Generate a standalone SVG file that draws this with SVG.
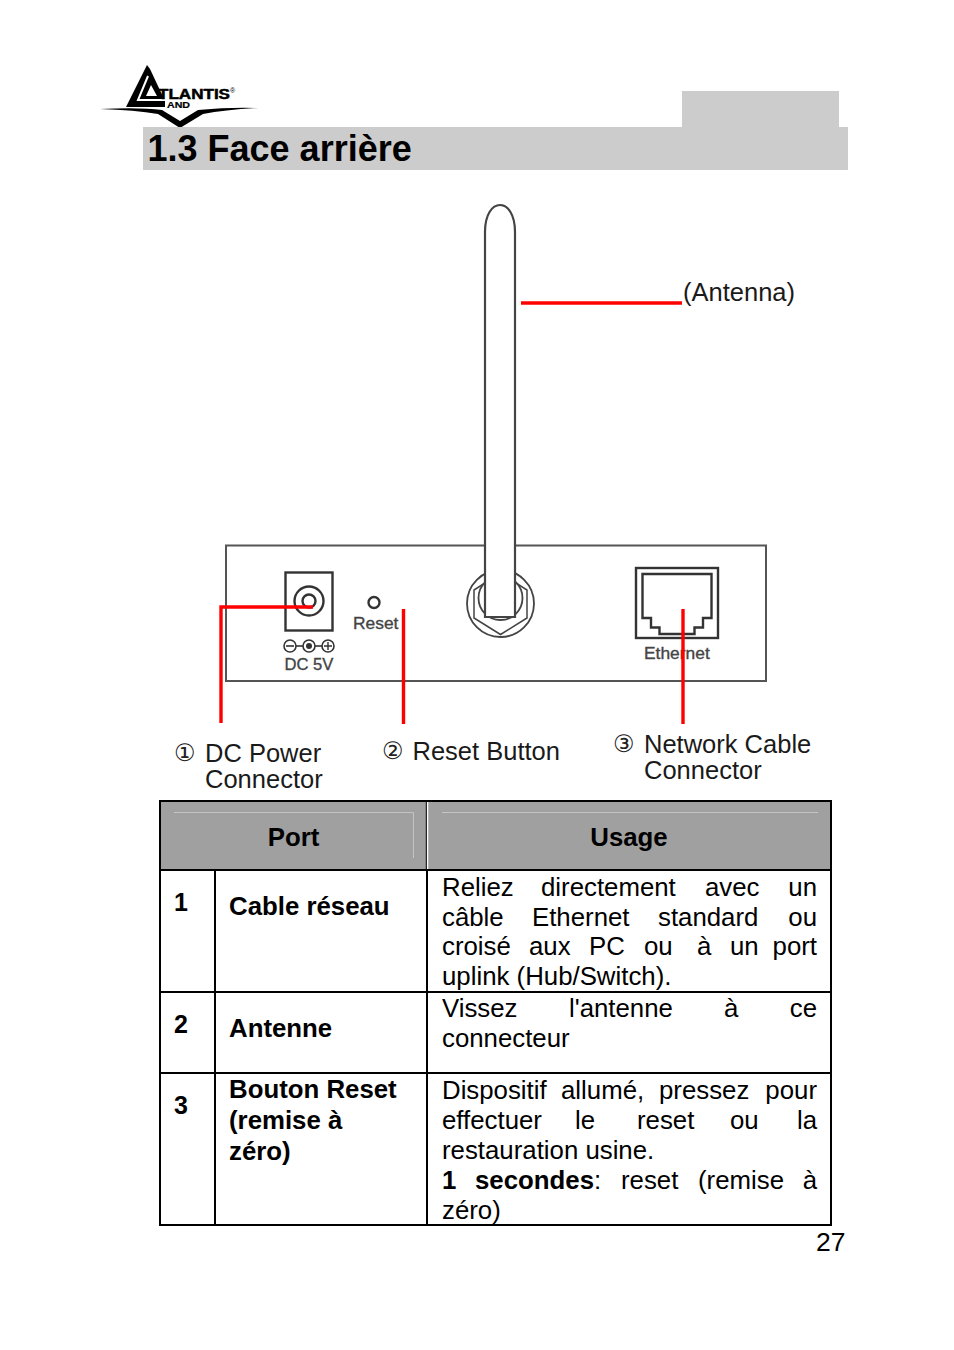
<svg xmlns="http://www.w3.org/2000/svg" width="954" height="1350" viewBox="0 0 954 1350">
<style>
text{font-family:"Liberation Sans",Arial,sans-serif;fill:#000}
.b{font-size:25.8px}
.h{font-size:25.8px;font-weight:bold}
.n{font-size:25px;font-weight:bold}
.lab{font-size:25.5px;fill:#1a1a1a}
.c{font-family:"DejaVu Sans",sans-serif;font-size:24px;fill:#222}
.s{font-size:17.4px;fill:#444;stroke:#444;stroke-width:.35}
.dev{fill:none;stroke:#555;stroke-width:2}
.dk{fill:none;stroke:#333;stroke-width:2.4}
.red{fill:none;stroke:#f00;stroke-width:3.4}
.tl{stroke:#000;stroke-width:2;fill:none}
</style>
<rect width="954" height="1350" fill="#fff"/>
<g id="logo">
<path d="M147 65L126 107H165V101H165L150 69Z" fill="#000"/>
<path d="M148 76L138 100H168" fill="none" stroke="#fff" stroke-width="2"/>
<path d="M151 85L146 96H157Z" fill="#fff"/>
<text x="158" y="98.500" style="font-size:14.500px;font-weight:bold" stroke="#000" stroke-width=".5" textLength="72" lengthAdjust="spacingAndGlyphs">TLANTIS</text>
<text x="167" y="108" style="font-size:8.400px;font-weight:bold" stroke="#000" stroke-width=".2" textLength="23" lengthAdjust="spacingAndGlyphs">AND</text>
<text x="230" y="93" style="font-size:7px">®</text>
<path d="M100 109Q140 107 162 110L180 121L198 110Q230 107 258 108Q225 110 203 114L180 128L158 114Q135 110 100 109Z" fill="#000"/>
</g>
<g id="header">
<rect x="682" y="91" width="157" height="40" fill="#ccc"/>
<rect x="143" y="127" width="705" height="43" fill="#ccc"/>
<text x="147.500" y="161" style="font-size:36px;font-weight:bold">1.3 Face arrière</text>
</g>
<g id="device">
<rect x="226" y="545.500" width="540" height="135.500" class="dev"/>
<rect x="285.500" y="572.500" width="47" height="58" class="dk"/>
<circle cx="309" cy="601" r="14.500" class="dk"/>
<circle cx="309" cy="601" r="6.500" class="dk"/>
<circle cx="374" cy="602.500" r="5.500" class="dk"/>
<text x="353" y="629" class="s">Reset</text>
<path d="M296 646H322" stroke="#333" stroke-width="1.600"/>
<circle cx="290" cy="646" r="6" fill="#fff" stroke="#333" stroke-width="1.600"/>
<path d="M286 646H294" stroke="#333" stroke-width="1.600"/>
<circle cx="309" cy="646" r="6" fill="#fff" stroke="#333" stroke-width="1.600"/>
<circle cx="309" cy="646" r="3" fill="#333"/>
<circle cx="328" cy="646" r="6" fill="#fff" stroke="#333" stroke-width="1.600"/>
<path d="M324 646H332M328 642V650" stroke="#333" stroke-width="1.400"/>
<text x="284.500" y="670" class="s" style="font-size:16.6px">DC 5V</text>
<rect x="636" y="568" width="82" height="70" class="dk"/>
<path d="M642.500 574H711.500V618H703V627.500H694.500V634H659.500V627.500H651V618H642.500Z" class="dk"/>
<text x="644" y="659" class="s">Ethernet</text>
<g id="antenna">
<circle cx="500.500" cy="603.500" r="33.500" class="dk" style="stroke:#444;stroke-width:1.800"/>
<path d="M500.500 573L527 590V618L500.500 634.500L474 618V590Z" class="dk" style="stroke:#444;stroke-width:1.500"/>
<circle cx="500.500" cy="598" r="22" class="dk" style="stroke:#444;stroke-width:1.800"/>
<path d="M485 617V232C485 196 515 196 515 232V617Z" fill="#fff" stroke="#444" stroke-width="2.200"/>
</g>
</g>
<g id="connectors">
<path d="M221 723V607H313" class="red"/>
<path d="M403.500 609V724" class="red"/>
<path d="M683 609V724" class="red"/>
<path d="M521 303H682" class="red"/>
</g>
<g id="callouts">
<text x="683" y="301" class="lab">(Antenna)</text>
<text x="174" y="761" class="c">①</text>
<text x="205" y="762" class="lab">DC Power</text>
<text x="205" y="788" class="lab">Connector</text>
<text x="382" y="759" class="c">②</text>
<text x="412.500" y="760" class="lab">Reset Button</text>
<text x="613" y="752" class="c">③</text>
<text x="644" y="753" class="lab">Network Cable</text>
<text x="644" y="779" class="lab">Connector</text>
</g>
<g id="table">
<rect x="161" y="802" width="669" height="68" fill="#a0a0a0"/>
<path d="M174 812.500H413.500V858M442 812.500H818" fill="none" stroke="#c4c4c4" stroke-width="1"/>
<rect x="160" y="801" width="671" height="424" class="tl"/>
<path d="M160 870H831M160 992H831M160 1073H831M215 870V1225M427 870V1225" class="tl"/>
<path d="M427.500 802V869" stroke="#fff" stroke-width="1.500"/>
<path d="M426.300 802V869" stroke="#000" stroke-width="1"/>
<text x="293.500" y="846" class="h" text-anchor="middle">Port</text>
<text x="629" y="846" class="h" text-anchor="middle">Usage</text>
<text x="174" y="911" class="n">1</text>
<text x="174" y="1033" class="n">2</text>
<text x="174" y="1114" class="n">3</text>
<text x="229" y="915" class="h">Cable réseau</text>
<text x="229" y="1037" class="h">Antenne</text>
<text x="229" y="1098" class="h">Bouton Reset</text>
<text x="229" y="1129" class="h">(remise à</text>
<text x="229" y="1160" class="h">zéro)</text>
<g class="b">
<text x="442" y="896">Reliez</text><text x="541" y="896">directement</text><text x="705" y="896">avec</text><text x="817" y="896" text-anchor="end">un</text>
<text x="442" y="926">câble</text><text x="532" y="926">Ethernet</text><text x="658" y="926">standard</text><text x="817" y="926" text-anchor="end">ou</text>
<text x="442" y="955">croisé</text><text x="529" y="955">aux</text><text x="589" y="955">PC</text><text x="644" y="955">ou</text><text x="697" y="955">à</text><text x="730" y="955">un</text><text x="817" y="955" text-anchor="end">port</text>
<text x="442" y="985">uplink (Hub/Switch).</text>
<text x="442" y="1017">Vissez</text><text x="569" y="1017">l'antenne</text><text x="724" y="1017">à</text><text x="817" y="1017" text-anchor="end">ce</text>
<text x="442" y="1047">connecteur</text>
<text x="442" y="1099">Dispositif</text><text x="561" y="1099">allumé,</text><text x="659" y="1099">pressez</text><text x="817" y="1099" text-anchor="end">pour</text>
<text x="442" y="1129">effectuer</text><text x="575" y="1129">le</text><text x="637" y="1129">reset</text><text x="730" y="1129">ou</text><text x="817" y="1129" text-anchor="end">la</text>
<text x="442" y="1159">restauration usine.</text>
<text x="442" y="1189" style="font-weight:bold">1</text><text x="475" y="1189"><tspan style="font-weight:bold">secondes</tspan>:</text><text x="621" y="1189">reset</text><text x="698" y="1189">(remise</text><text x="817" y="1189" text-anchor="end">à</text>
<text x="442" y="1219">zéro)</text>
</g>
</g>
<text id="page" x="816" y="1251" style="font-size:26.5px">27</text>
</svg>
